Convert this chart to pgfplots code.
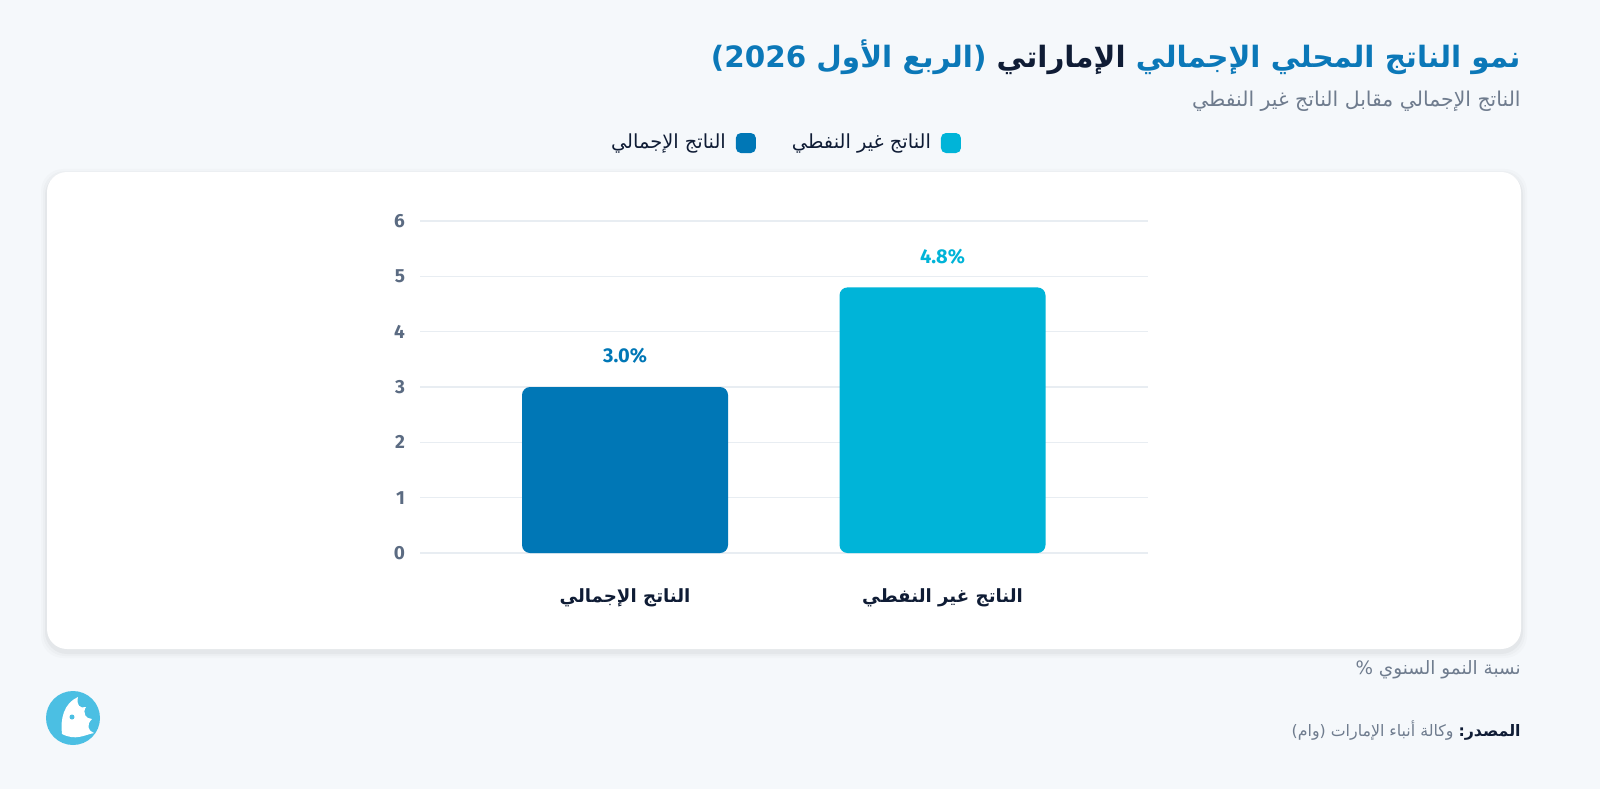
\documentclass[border=0pt]{standalone}
\usepackage{pgfplots}
\pgfplotsset{compat=1.18}
\usepackage{fontspec}
\setmainfont{Fira Sans}
\newfontfamily\ar[Script=Arabic]{DejaVu Sans}
\TeXXeTstate=1
\definecolor{bg}{HTML}{F5F8FB}
\definecolor{cblue}{HTML}{0077B6}
\definecolor{ccyan}{HTML}{00B4D8}
\definecolor{tblue}{HTML}{0B78B8}
\definecolor{navy}{HTML}{0F1C35}
\definecolor{tick}{HTML}{5B6B82}
\definecolor{sub}{HTML}{6F7C8E}
\definecolor{gridc}{HTML}{E8EDF2}
\definecolor{logo}{HTML}{4BBFE3}
\pgfplotstableread{
x y
0 3.0
}\totaltable
\pgfplotstableread{
x y
1 4.8
}\nonoiltable
\begin{document}
\begin{tikzpicture}[x=0.5pt,y=0.5pt]
\useasboundingbox (0,0) rectangle (1600,789);
\fill[bg] (0,0) rectangle (1600,789);
% card shadow
\foreach \i/\o in {6/0.015,4/0.02,2/0.03}{
  \fill[black,opacity=\o,rounded corners=11pt] (47-\i,140-\i-3) rectangle (1521+\i,617+\i-3);
}
\fill[white,rounded corners=10pt] (47,140) rectangle (1521,617);
% title (segments in visual left-to-right order)
\node[anchor=east,inner sep=0pt] at (1521,732) {\ar\bfseries\fontsize{14.7}{18}\selectfont
  {\color{tblue}\beginR(الربع الأول \beginL2026\endL)\endR}
  {\color{navy}\beginR الإماراتي\endR}
  {\color{tblue}\beginR نمو الناتج المحلي الإجمالي\endR}};
\node[anchor=east,inner sep=0pt] at (1521,688) {\ar\fontsize{10.2}{12}\selectfont\color{sub}\beginR الناتج الإجمالي مقابل الناتج غير النفطي\endR};
% footer
\node[anchor=east,inner sep=0pt] at (1521,119) {\ar\fontsize{9.2}{11}\selectfont\color{sub}\beginR نسبة النمو السنوي \%\endR};
\node[anchor=east,inner sep=0pt] at (1521,58) {\ar\fontsize{7.9}{10}\selectfont
  {\color{sub}\beginR وكالة أنباء الإمارات (وام)\endR}
  {\color{navy}\bfseries\beginR المصدر:\endR}};
% logo
\fill[logo] (73,71) circle (27);
\fill[white] (62,55) .. controls (60,70) and (64,86) .. (78,92) .. controls (76,84) and (80,80) .. (86,82) .. controls (82,76) and (86,70) .. (92,70) .. controls (86,64) and (88,58) .. (94,56) .. controls (84,54) and (76,48) .. (62,55) -- cycle;
\fill[logo] (72,72) circle (2.5);
\begin{axis}[
  at={(210pt,118pt)}, anchor=south west,
  scale only axis, width=364pt, height=166pt,
  xmin=-0.6457, xmax=1.6472, ymin=0, ymax=6,
  axis line style={draw=none},
  ymajorgrids, grid style={gridc, line width=0.8pt},
  major tick length=0pt,
  ytick={0,1,2,3,4,5,6},
  xtick={0,1},
  xticklabels={{\ar\bfseries\beginR الناتج الإجمالي\endR},{\ar\bfseries\beginR الناتج غير النفطي\endR}},
  xticklabel style={font=\fontsize{9.1}{12}\selectfont, text=navy, anchor=center, yshift=-22.5pt},
  yticklabel style={font=\bfseries\fontsize{9.5}{10}\selectfont, text=tick, anchor=east, xshift=-4pt},
  /pgf/number format/assume math mode=true,
  ybar, bar width=103pt,
  nodes near coords={\pgfmathprintnumber[fixed,fixed zerofill,precision=1]{\pgfplotspointmeta}\%},
  nodes near coords style={font=\bfseries\fontsize{10}{11}\selectfont, anchor=center, yshift=15.5pt, /pgf/number format/assume math mode=true},
  legend columns=2,
  legend plot pos=right,
  legend style={at={(0.5,1)}, anchor=center, xshift=0pt, yshift=39pt, draw=none, fill=none,
    font=\ar\fontsize{9.7}{10}\selectfont, text=navy,
    /tikz/every even column/.append style={column sep=16pt}},
  legend image code/.code={\path (0pt,0pt); \fill[#1,draw=none,rounded corners=2.5pt] (3pt,-5pt) rectangle (13pt,5pt);},
]
\addplot[fill=cblue, draw=none, rounded corners=4pt, bar shift=0pt, nodes near coords style={text=cblue}] table[x=x,y=y] {\totaltable};
\addplot[fill=ccyan, draw=none, rounded corners=4pt, bar shift=0pt, nodes near coords style={text=ccyan}] table[x=x,y=y] {\nonoiltable};
\legend{{\beginR الناتج الإجمالي\endR},{\beginR الناتج غير النفطي\endR}}
\end{axis}
\end{tikzpicture}
\end{document}
